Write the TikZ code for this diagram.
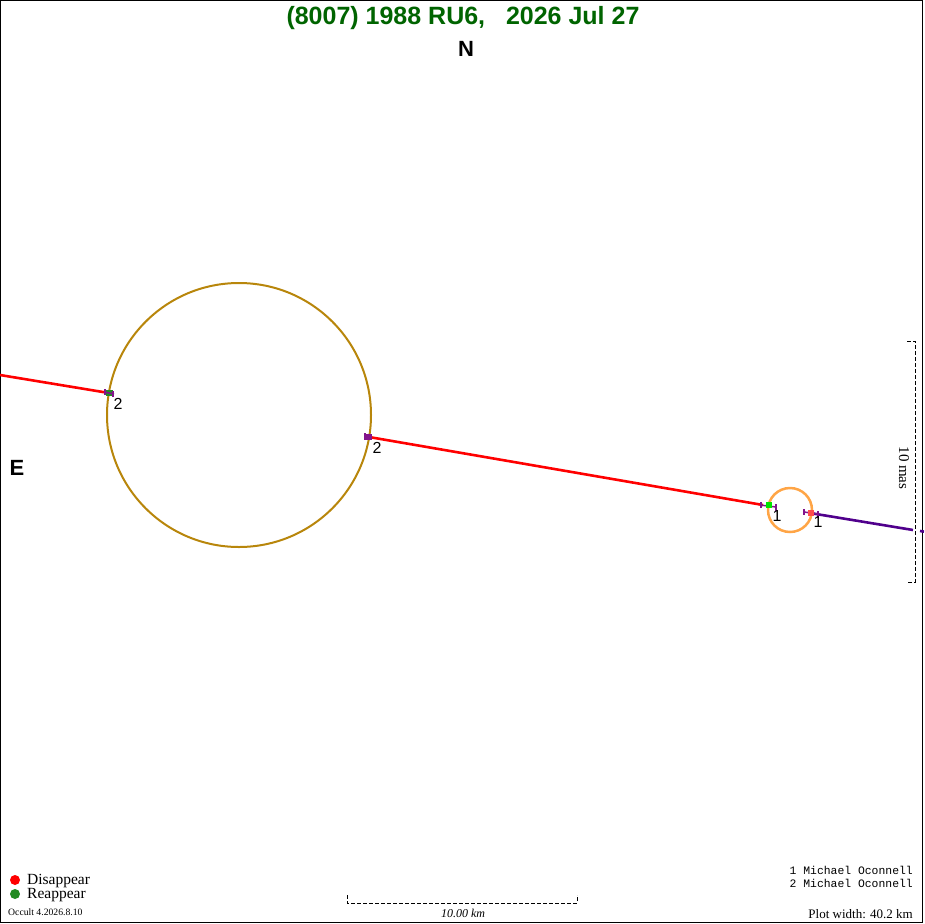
\documentclass[tikz,border=0pt]{standalone}
\usepackage{fontspec}
\setmainfont{Liberation Serif}
\setsansfont{Liberation Sans}
\setmonofont{Liberation Mono}
\begin{document}
\begin{tikzpicture}[x=1pt,y=-1pt,
  chord/.style={line width=2.6pt},
  lbl/.style={font=\sffamily\fontsize{16}{16}\selectfont,inner sep=0pt},
  scaleline/.style={dashed,line width=0.8pt,dash pattern=on 4pt off 2pt}]
\useasboundingbox (0,0) rectangle (924,924);
\definecolor{ttl}{RGB}{0,100,0}
\definecolor{gold}{RGB}{184,134,11}
\definecolor{orng}{RGB}{255,165,70}
\definecolor{indig}{RGB}{80,0,140}
\definecolor{vio}{RGB}{130,20,140}
\definecolor{grn}{RGB}{34,139,34}
\draw[line width=1.2pt] (0.8,0.8) rectangle (922.5,922.5);
% title
\node[font=\sffamily\bfseries\fontsize{25}{25}\selectfont,text=ttl] (title) at (463,18) {(8007) 1988 RU6,\ \ \ 2026 Jul 27};
\node[font=\sffamily\bfseries\fontsize{22}{22}\selectfont] (N) at (466,49) {N};
\node[font=\sffamily\bfseries\fontsize{22}{22}\selectfont] (E) at (17,468) {E};
% circles
\node[draw=gold,line width=2pt,circle,minimum size=264pt,inner sep=0pt] (big) at (239,415) {};
\node[draw=orng,line width=2.5pt,circle,minimum size=44pt,inner sep=0pt] (small) at (790,510) {};
% chord 2
\coordinate (a0) at (0,375);
\coordinate (a1) at (109,393);
\coordinate (a2) at (369,437);
\coordinate (a3) at (763,505);
\draw[chord,red] (a0) -- (a1);
\draw[chord,red] (a2) -- (a3);
% chord 1 (purple)
\coordinate (b1) at (810,513);
\coordinate (b2) at (913,530);
\coordinate (b3) at (920,531);
\coordinate (b4) at (924,531.6);
\draw[chord,indig] (b1) -- (b2);
\draw[chord,indig] (b3) -- (b4);
% markers chord 2
\fill[grn] (106,390) rectangle (113,396);
\draw[vio,line width=1.5pt] (104,392) -- (114,394);
\draw[vio,line width=1.5pt] (105,389) -- (105,395) (113,391) -- (113,397);
\fill[vio] (365,434) rectangle (372,440);
\draw[vio,line width=1.5pt] (365,433) -- (365,440);
% markers chord 1 left
\draw[vio,line width=1.5pt] (760,505) -- (776,507);
\draw[vio,line width=1.5pt] (761,502) -- (761,508) (776,504) -- (776,511);
\fill[green!90!black] (766,502) rectangle (772,508);
% markers chord 1 right
\draw[vio,line width=1.5pt] (804,512) -- (818,514);
\draw[vio,line width=1.5pt] (804,509) -- (804,515) (818,511) -- (818,518);
\fill[red!70!white] (808,510) rectangle (814,516);
% labels
\node[lbl] (l2a) at (118,404) {2};
\node[lbl] (l2b) at (377,448) {2};
\node[lbl] (l1a) at (777,516) {1};
\node[lbl] (l1b) at (818,522) {1};
% vertical scale
\coordinate (v1) at (915,341);
\coordinate (v2) at (915,582);
\draw[scaleline] (907,341) -- (v1) -- (v2) -- (907,582);
\node[rotate=-90,font=\fontsize{15}{15}\selectfont] (mas) at (904,468) {10 mas};
% horizontal scale
\coordinate (h1) at (347,903);
\coordinate (h2) at (577,903);
\draw[scaleline] (347,895) -- (h1) -- (h2) -- (577,895);
\node[font=\itshape\fontsize{12}{12}\selectfont] (km) at (463,913) {10.00 km};
% legend
\fill[red] (15,880) circle (5);
\fill[grn] (15,894) circle (5);
\node[anchor=west,font=\fontsize{15.5}{15.5}\selectfont,inner sep=0pt] (dis) at (27,881) {Disappear};
\node[anchor=west,font=\fontsize{15.5}{15.5}\selectfont,inner sep=0pt] (rea) at (27,895) {Reappear};
\node[anchor=west,font=\fontsize{9.7}{9.7}\selectfont,inner sep=0pt] (occ) at (8,912) {Occult 4.2026.8.10};
% observers
\node[anchor=east,font=\ttfamily\fontsize{11.4}{11.4}\selectfont,inner sep=0pt] (o1) at (913,870) {1 Michael Oconnell};
\node[anchor=east,font=\ttfamily\fontsize{11.4}{11.4}\selectfont,inner sep=0pt] (o2) at (913,883) {2 Michael Oconnell};
\node[anchor=east,font=\fontsize{13}{13}\selectfont,inner sep=0pt] (pw) at (913,914) {Plot width: 40.2 km};
\end{tikzpicture}
\end{document}
